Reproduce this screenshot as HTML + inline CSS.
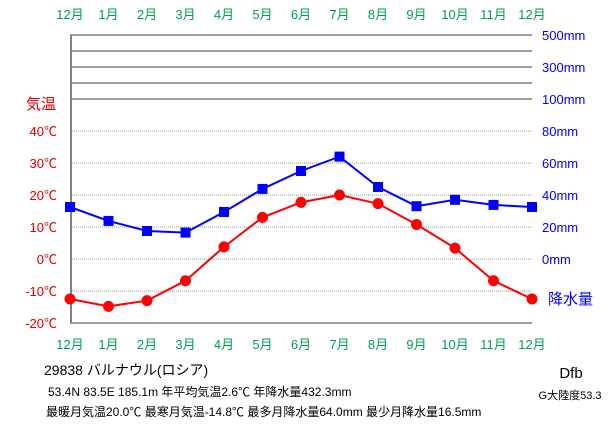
<!DOCTYPE html>
<html><head><meta charset="utf-8"><style>
body{margin:0;background:#fff;width:611px;height:425px;overflow:hidden}
svg{font-family:"Liberation Sans","Noto Sans CJK JP",sans-serif}
</style></head><body>
<svg id="c" width="611" height="425"></svg>
<script>
const months=["12月","1月","2月","3月","4月","5月","6月","7月","8月","9月","10月","11月","12月"];
const temps=[-12.5,-14.8,-13.0,-6.8,3.8,13.0,17.7,20.0,17.3,10.8,3.4,-6.8,-12.5];
const precip=[32.5,23.8,17.5,16.5,29.4,43.8,55.0,64.0,45.0,33.0,37.0,33.8,32.5];
const tempTicks=[40,30,20,10,0,-10,-20];
const precipTicks=[80,60,40,20,0];
const precipTopTicks=["100mm","300mm","500mm"];
const NS="http://www.w3.org/2000/svg",svg=document.getElementById('c');
const x=i=>70+i*38.5, yT=t=>259-t*3.2, yP=p=>259-p*1.6;
function el(tag,a,txt){const e=document.createElementNS(NS,tag);for(const k in a)e.setAttribute(k,a[k]);if(txt!=null)e.textContent=txt;svg.appendChild(e);return e;}
[35,51,67,83,99].forEach(y=>{const l=el('line',{x1:70,x2:532,y1:y,y2:y,stroke:'#808080','stroke-width':1.5});});
tempTicks.forEach(t=>{if(t===-20)return;const l=el('line',{x1:70,x2:532,y1:yT(t),y2:yT(t),stroke:'#999','stroke-width':1,'stroke-dasharray':'1,1'});});
let a=el('line',{x1:71,x2:71,y1:35,y2:323,stroke:'#808080','stroke-width':2});
a=el('line',{x1:70,x2:532,y1:323,y2:323,stroke:'#808080','stroke-width':1.5});
months.forEach((m,i)=>{[19,349].forEach(y=>{const t=el('text',{x:x(i),y:y,'text-anchor':'middle','font-size':13,fill:'#00a050'},m);});});
let t=el('text',{x:56,y:109,'text-anchor':'end','font-size':15,fill:'#e00000'},'気温');
tempTicks.forEach(v=>{const e=el('text',{x:57,y:yT(v)+5,'text-anchor':'end','font-size':13,fill:'#e00000'},v+'℃');});
precipTicks.forEach(v=>{const e=el('text',{x:542,y:yP(v)+5,'font-size':13,fill:'#0000ff'},v+'mm');});
precipTopTicks.forEach((v,i)=>{const e=el('text',{x:542,y:99-i*32+5,'font-size':13,fill:'#0000ff'},v);});
t=el('text',{x:548,y:304,'font-size':15,fill:'#0000ff'},'降水量');
let pl=el('polyline',{points:precip.map((p,i)=>x(i)+','+yP(p)).join(' '),fill:'none',stroke:'#0000ff','stroke-width':2});
precip.forEach((p,i)=>{const r=el('rect',{x:x(i)-5,y:yP(p)-5,width:10,height:10,fill:'#0000ff'});});
pl=el('polyline',{points:temps.map((v,i)=>x(i)+','+yT(v)).join(' '),fill:'none',stroke:'#ff0000','stroke-width':2});
temps.forEach((v,i)=>{const c=el('circle',{cx:x(i),cy:yT(v),r:5.5,fill:'#ff0000'});});
const info=[[44,375,14,'29838 バルナウル(ロシア)','station-name'],[48,396,12,'53.4N  83.5E  185.1m 年平均気温2.6℃  年降水量432.3mm','station-info'],[46,416,12,'最暖月気温20.0℃ 最寒月気温-14.8℃ 最多月降水量64.0mm 最少月降水量16.5mm','station-extremes']];
info.forEach(d=>{const e=el('text',{x:d[0],y:d[1],'font-size':d[2],fill:'#000'},d[3]);});
t=el('text',{x:571,y:378,'text-anchor':'middle','font-size':15,fill:'#000'},'Dfb');
t=el('text',{x:570,y:399,'text-anchor':'middle','font-size':11,fill:'#000'},'G大陸度53.3');
</script></body></html>
